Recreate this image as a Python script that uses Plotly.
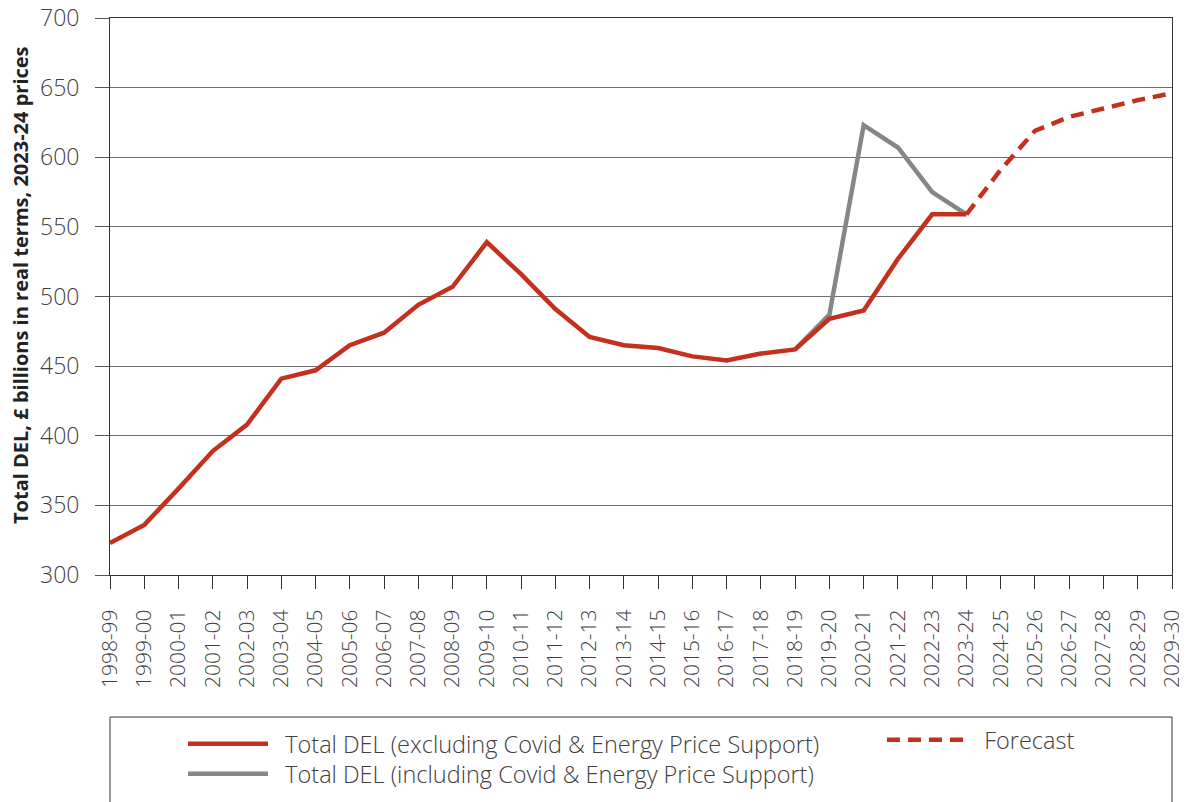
import plotly.graph_objects as go

# financial years on the x axis
years = ['1998-99', '1999-00', '2000-01', '2001-02', '2002-03', '2003-04', '2004-05',
         '2005-06', '2006-07', '2007-08', '2008-09', '2009-10', '2010-11', '2011-12',
         '2012-13', '2013-14', '2014-15', '2015-16', '2016-17', '2017-18', '2018-19',
         '2019-20', '2020-21', '2021-22', '2022-23', '2023-24', '2024-25', '2025-26',
         '2026-27', '2027-28', '2028-29', '2029-30']

# outturn excluding Covid & energy support, 1998-99 to 2023-24
excl_years = years[:26]
excl_vals = [323, 336, 362, 389, 408, 441, 447, 465, 474, 494, 507, 539, 516, 491,
             471, 465, 463, 457, 454, 459, 462, 484, 490, 527, 559, 559]

# including support, 2018-19 to 2023-24
incl_years = years[20:26]
incl_vals = [462, 487, 623, 607, 575, 559]

# forecast, 2023-24 to 2029-30
fc_years = years[25:]
fc_vals = [559, 591, 619, 629, 635, 641, 646]

y_ticks = [300, 350, 400, 450, 500, 550, 600, 650, 700]

RED = '#C3301E'
GREY = '#85868A'
TXT = '#404040'
FONT = 'Open Sans'
GAP = '\u00a0\u00a0'  # small gap between legend line and text

# the page body has an 8px margin, so the figure is drawn 8px smaller
W, H = 1179, 794

fig = go.Figure()

fig.add_trace(go.Scatter(
    x=incl_years, y=incl_vals, mode='lines',
    name=GAP + 'Total DEL (including Covid & Energy Price Support)',
    line=dict(color=GREY, width=4.5),
    legend='legend3'
))
fig.add_trace(go.Scatter(
    x=excl_years, y=excl_vals, mode='lines',
    name=GAP + 'Total DEL (excluding Covid & Energy Price Support)',
    line=dict(color=RED, width=4.5),
    legend='legend'
))
fig.add_trace(go.Scatter(
    x=fc_years, y=fc_vals, mode='lines',
    name=GAP + 'Forecast',
    line=dict(color=RED, width=4.5, dash='13px,8px'),
    legend='legend2'
))

# frame around the legend area (runs off the bottom of the page)
fig.add_shape(type='rect', xref='paper', yref='paper',
              x0=0, x1=1, y0=-0.255, y1=-0.6,
              line=dict(color='#333333', width=1), fillcolor='rgba(0,0,0,0)')

# y axis title, placed a little above the middle like the original
fig.add_annotation(
    text='<b>Total DEL, £ billions in real terms, 2023-24 prices</b>',
    xref='paper', yref='paper', x=-0.0838, y=0.5207,
    xanchor='center', yanchor='middle', textangle=-90, showarrow=False,
    font=dict(size=20, color='#222222', family=FONT)
)

leg_font = dict(size=23.5, color=TXT, weight=300)
leg_common = dict(xanchor='left', yanchor='middle', orientation='v', itemwidth=80,
                  font=leg_font, bgcolor='rgba(0,0,0,0)')

fig.update_layout(
    width=W, height=H,
    margin=dict(l=102, r=15, t=10, b=227, autoexpand=False),
    paper_bgcolor='white', plot_bgcolor='white',
    font=dict(family=FONT, color=TXT),
    xaxis=dict(
        type='category', categoryorder='array', categoryarray=years,
        range=[0, len(years) - 1], automargin=False,
        tickangle=-90, tickfont=dict(size=21, color=TXT, weight=300),
        ticks='outside', ticklen=13, tickcolor='#333333', tickwidth=1,
        ticklabelstandoff=12, ticklabeloverflow='allow',
        showline=True, linecolor='#333333', linewidth=1, mirror=True,
        showgrid=False, zeroline=False
    ),
    yaxis=dict(
        range=[300, 700], tickvals=y_ticks, automargin=False,
        tickfont=dict(size=23, color=TXT, weight=300),
        ticks='outside', ticklen=14, tickcolor='#555555', tickwidth=1,
        ticklabelstandoff=11, ticklabeloverflow='allow',
        showline=True, linecolor='#333333', linewidth=1, mirror=True,
        showgrid=True, gridcolor='#6e6e6e', gridwidth=1, zeroline=False
    ),
    legend=dict(x=0.0687, y=-0.3034, **leg_common),
    legend3=dict(x=0.0687, y=-0.3573, **leg_common),
    legend2=dict(x=0.7269, y=-0.2962, **leg_common),
    showlegend=True
)

fig.write_html('out.html')
